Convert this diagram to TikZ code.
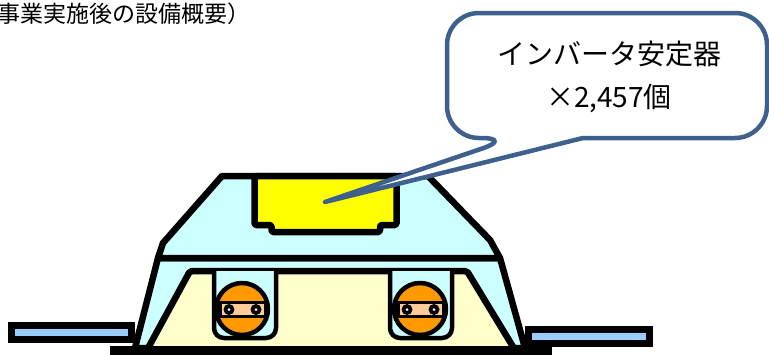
\documentclass[tikz,border=0pt]{standalone}
\usepackage{fontspec}
\usepackage{xcolor}
\usepackage{tikz}
\usetikzlibrary{positioning,calc}
\newfontfamily\jpfont{Noto Sans CJK JP}
\definecolor{cabcyan}{HTML}{CCFFFF}
\definecolor{bodycream}{HTML}{FFFFCC}
\definecolor{railblue}{HTML}{99CCFF}
\definecolor{lampyellow}{HTML}{FFFF00}
\definecolor{wheelorange}{HTML}{FF9900}
\definecolor{wheelpeach}{HTML}{FFCC99}
\definecolor{calloutblue}{RGB}{62,96,140}

\begin{document}
\begin{tikzpicture}[x=1pt,y=-1pt,
  outline/.style = {draw=black, line width=6.5pt, line join=round},
  thinline/.style = {draw=black, line width=4.5pt, line join=round},
  rail/.style = {draw=black, line width=7pt, fill=railblue},
  callout/.style = {draw=calloutblue, line width=4.5pt, fill=white, line join=round}]
\useasboundingbox (0,0) rectangle (769,354);

%\node (heading) at (0,0) {（事業実施後の設備概要）};
\node[anchor = base west, inner sep = 0, font = \jpfont\fontsize{23}{23}\selectfont] (heading) at (-3,22) {事業実施後の設備概要）};

% rails on both sides
\draw[rail] (11.5,325.5) rectangle (131.5,339.5);
\draw[rail] (528.5,329) rectangle (649.5,343.5);

% lower body and cab
\draw[outline, fill = cabcyan] (158,258) -- (500,258) -- (525,348) -- (135,348) -- cycle;
\draw[outline, fill = cabcyan] (222,176) -- (428,176) -- (490,240) -- (500,258) -- (158,258) -- (163,243) -- cycle;
\draw[outline, fill = bodycream, rounded corners = 2pt] (190,271) -- (467,271) -- (515,350) -- (147,350) -- cycle;

% inverter box hanging from the roof
\draw[outline, fill = lampyellow, rounded corners = 1.5pt] (254.5,176) -- (396.5,176) -- (396.5,225) -- (380,225) -- (380,232) -- (271.5,232) -- (271.5,225) -- (254.5,225) -- cycle;

% wheels in their brackets
\foreach \wx/\cx in {214/242, 390/420}{
  \draw[thinline, fill = cabcyan, rounded corners = 10pt] (\wx,271) -- (\wx,338) -- (\wx+62,338) -- (\wx+62,271);
  \begin{scope}
    \clip (\cx,309) circle (26);
    \fill[wheelorange] (\cx,309) circle (26);
    \fill[black] (\cx-30,301) rectangle (\cx+30,318);
  \end{scope}
  \fill[wheelpeach] (\cx-20,304) rectangle (\cx+22,315);
  \foreach \dx in {-13,14}{
    \fill[black] (\cx+\dx,309.5) circle (5.5);
    \fill[white] (\cx+\dx,309.5) circle (1.5);
  }
  \draw[thinline] (\cx,309) circle (26);
}

% base plate
\draw[black, line width = 9pt] (110,350) -- (552,350);

% callout with tail into the inverter box
\coordinate (tip) at (325,202);
\draw[callout] (513,138) -- (tip) -- (583,138) [rounded corners = 32pt] -- (767,138) -- (767,13) -- (447,13) -- (447,138) -- cycle;
\node[font = \jpfont\fontsize{28}{43}\selectfont, align = center] (label) at (609,76.5) {インバータ安定器\\×2,457個};
\end{tikzpicture}
\end{document}
